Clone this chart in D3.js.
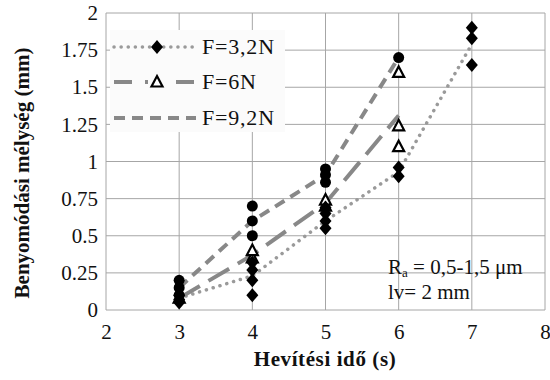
<!DOCTYPE html>
<html>
<head>
<meta charset="utf-8">
<script src="https://cdn.jsdelivr.net/npm/d3@7"></script>
<style>
  html, body { margin: 0; padding: 0; background: #fff; }
  svg text { font-family: "Liberation Serif", "Times New Roman", Times, serif !important; }
</style>
</head>
<body>
<svg id="chart" width="550" height="380"></svg>
<script>
// Measured points (heating time in s, indentation depth in mm)
const xTicks = [2, 3, 4, 5, 6, 7, 8];
const yTicks = [0, 0.25, 0.5, 0.75, 1, 1.25, 1.5, 1.75, 2];
const yTickLabels = ["0", "0.25", "0.5", "0.75", "1", "1.25", "1.5", "1.75", "2"];

// F = 3,2 N
const f32Points = [
  [3, 0.05], [3, 0.07], [3, 0.1],
  [4, 0.1], [4, 0.2], [4, 0.27], [4, 0.32],
  [5, 0.55], [5, 0.6], [5, 0.65], [5, 0.69],
  [6, 0.9], [6, 0.96],
  [7, 1.65], [7, 1.83], [7, 1.9]
];
const f32Trend = [[3, 0.08], [4, 0.23], [5, 0.6], [6, 0.93], [7, 1.79]];

// F = 6 N
const f6Points = [
  [3, 0.08],
  [4, 0.35], [4, 0.4],
  [5, 0.7], [5, 0.74],
  [6, 1.1], [6, 1.24], [6, 1.6]
];
const f6Trend = [[3, 0.08], [4, 0.37], [5, 0.72], [6, 1.31]];

// F = 9,2 N
const f92Points = [
  [3, 0.1], [3, 0.15], [3, 0.2],
  [4, 0.5], [4, 0.6], [4, 0.7],
  [5, 0.86], [5, 0.91], [5, 0.95],
  [6, 1.7]
];
const f92Trend = [[3, 0.15], [4, 0.6], [5, 0.91], [6, 1.7]];

const legendLabels = ["F=3,2N", "F=6N", "F=9,2N"];

const svg = d3.select("#chart");
const plot = { left: 106, right: 545, top: 13, bottom: 310 };

const x = d3.scaleLinear().domain([2, 8]).range([plot.left, plot.right]);
const y = d3.scaleLinear().domain([0, 2]).range([plot.bottom, plot.top]);

const gridColor = "#a6a6a6";
const textColor = "#111";

// grid
const g = svg.append("g");
g.selectAll("line.gx").data(xTicks).join("line")
  .attr("x1", d => x(d)).attr("x2", d => x(d))
  .attr("y1", plot.top).attr("y2", plot.bottom)
  .attr("stroke", gridColor).attr("stroke-width", 1);
g.selectAll("line.gy").data(yTicks).join("line")
  .attr("x1", plot.left).attr("x2", plot.right)
  .attr("y1", d => y(d)).attr("y2", d => y(d))
  .attr("stroke", gridColor).attr("stroke-width", 1);

// axes (labels only; grid draws the frame)
const xAxis = d3.axisBottom(x).tickValues(xTicks).tickSize(0).tickPadding(14).tickFormat(d3.format("d"));
svg.append("g").attr("transform", `translate(0,${plot.bottom})`).call(xAxis)
  .call(a => a.select(".domain").remove())
  .selectAll("text").attr("font-size", 21).attr("fill", textColor);

const yAxis = d3.axisLeft(y).tickValues(yTicks).tickSize(0).tickPadding(8)
  .tickFormat((d, i) => yTickLabels[i]);
svg.append("g").attr("transform", `translate(${plot.left},0)`).call(yAxis)
  .call(a => a.select(".domain").remove())
  .selectAll("text").attr("font-size", 21).attr("fill", textColor);

// series styles
const series = [
  { pts: f32Points, trend: f32Trend, stroke: "#9a9a9a", dash: "0.1 7", cap: "round", width: 3.5, marker: "diamond" },
  { pts: f6Points, trend: f6Trend, stroke: "#888888", dash: "24 10", cap: "butt", width: 4, marker: "triangle" },
  { pts: f92Points, trend: f92Trend, stroke: "#888888", dash: "11 7", cap: "butt", width: 4, marker: "circle" }
];

const line = d3.line().x(d => x(d[0])).y(d => y(d[1]));

series.forEach(s => {
  svg.append("path").datum(s.trend)
    .attr("d", line)
    .attr("fill", "none")
    .attr("stroke", s.stroke)
    .attr("stroke-width", s.width)
    .attr("stroke-dasharray", s.dash)
    .attr("stroke-linecap", s.cap);
});

function drawMarker(sel, type) {
  if (type === "diamond") {
    sel.append("path").attr("d", "M0,-7 L6,0 L0,7 L-6,0 Z").attr("fill", "#000");
  } else if (type === "circle") {
    sel.append("circle").attr("r", 5.5).attr("fill", "#000");
  } else {
    sel.append("path").attr("d", "M0,-6 L5.5,4.5 L-5.5,4.5 Z")
      .attr("fill", "#fff").attr("stroke", "#000").attr("stroke-width", 2.2);
  }
}

// markers: circles, triangles, diamonds
[series[2], series[1], series[0]].forEach(s => {
  s.pts.forEach(p => {
    const m = svg.append("g").attr("transform", `translate(${x(p[0])},${y(p[1])})`);
    drawMarker(m, s.marker);
  });
});

// legend
const lg = svg.append("g");
lg.append("rect").attr("x", 110).attr("y", 30).attr("width", 175).attr("height", 102)
  .attr("fill", "#fbfbfb");
const legendY = [47, 82, 118];
series.forEach((s, i) => {
  const ly = legendY[i];
  lg.append("line").attr("x1", 114).attr("x2", 196).attr("y1", ly).attr("y2", ly)
    .attr("stroke", s.stroke).attr("stroke-width", s.width)
    .attr("stroke-dasharray", i === 1 ? "18 13" : s.dash)
    .attr("stroke-linecap", s.cap);
  if (s.marker !== "circle") {
    const m = lg.append("g").attr("transform", `translate(157,${ly})`);
    if (s.marker === "triangle") {
      m.append("rect").attr("x", -9).attr("y", -8).attr("width", 18).attr("height", 16).attr("fill", "#fbfbfb");
    }
    drawMarker(m, s.marker);
  }
  lg.append("text").attr("x", 202).attr("y", ly + 7)
    .attr("font-size", 22).attr("letter-spacing", 0.8).attr("fill", textColor).text(legendLabels[i]);
});

// axis titles
svg.append("text").attr("x", 325).attr("y", 366).attr("text-anchor", "middle")
  .attr("font-size", 21).attr("font-weight", "bold").attr("letter-spacing", 0.6).attr("fill", textColor)
  .text("Hevítési idő (s)");
svg.append("text").attr("transform", "translate(29,173) rotate(-90)").attr("text-anchor", "middle")
  .attr("font-size", 21).attr("font-weight", "bold").attr("fill", textColor)
  .text("Benyomódási mélység (mm)");

// annotation
const ann = svg.append("text").attr("x", 388).attr("y", 274).attr("font-size", 21).attr("fill", textColor);
ann.append("tspan").text("R");
ann.append("tspan").attr("font-size", 13).attr("dy", 3).text("a");
ann.append("tspan").attr("dy", -3).text(" = 0,5-1,5 μm");
svg.append("text").attr("x", 388).attr("y", 299).attr("font-size", 21).attr("fill", textColor).text("lv= 2 mm");
</script>
</body>
</html>
